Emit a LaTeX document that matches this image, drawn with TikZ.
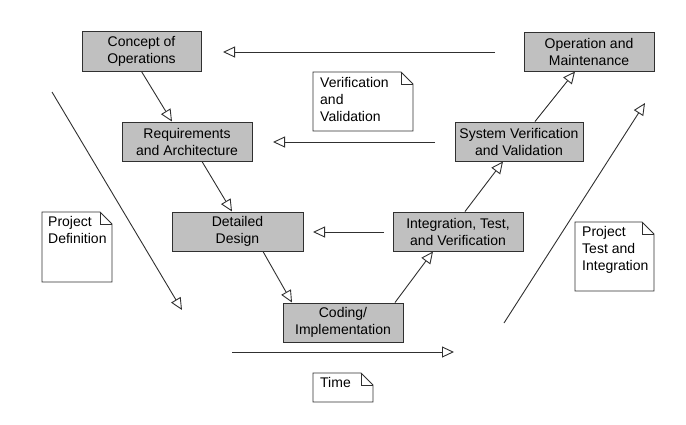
\documentclass[tikz,border=0pt]{standalone}
\usepackage{fontspec}
\setmainfont{Liberation Sans}
\usetikzlibrary{arrows.meta}
\definecolor{boxgray}{HTML}{C0C0C0}
\definecolor{linegray}{HTML}{303030}
\tikzset{
  phase/.style={draw=linegray, line width=1pt, fill=boxgray, inner sep=0pt, align=center,
    font=\fontsize{14}{17}\selectfont},
  note/.style={inner sep=0pt, align=left, anchor=north west,
    font=\fontsize{14}{17}\selectfont},
  conn/.style={draw=linegray, line width=0.9pt, -{Triangle[open, length=12pt, width=11pt, line width=0.9pt]}},
  noteline/.style={draw=linegray, line width=0.9pt}
}
\newcommand{\notebox}[5]{% name, x0, y0, x1, y1
  \coordinate (#1-nw) at (#2,#3);
  \coordinate (#1-se) at (#4,#5);
  \draw[noteline] (#1-nw) -- (#4-12,#3) -- (#4,#3+12) -- (#1-se) -- (#2,#5) -- cycle;
  \draw[noteline] (#4-12,#3) -- (#4-12,#3+12) -- (#4,#3+12);
}
\begin{document}
\begin{tikzpicture}[x=1pt, y=-1pt]
\useasboundingbox (0,0) rectangle (686,424);
% phases
\node[phase, minimum width=119pt, minimum height=40pt] (con) at (141.5,51) {Concept of\\Operations};
\node[phase, minimum width=130pt, minimum height=39pt] (req) at (187,141.5) {Requirements\\and Architecture};
\node[phase, minimum width=131pt, minimum height=39pt] (det) at (237.5,231.5) {Detailed\\Design};
\node[phase, minimum width=120pt, minimum height=39pt] (cod) at (343,322.5) {Coding/\\Implementation};
\node[phase, minimum width=130pt, minimum height=39pt] (int) at (458,231.5) {Integration, Test,\\and Verification};
\node[phase, minimum width=128pt, minimum height=39pt] (sys) at (519,141.5) {System Verification\\and Validation};
\node[phase, minimum width=130pt, minimum height=39pt] (op) at (589,51.5) {Operation and\\Maintenance};
% V connectors
\draw[conn] (con.south) -- ([xshift=-15pt]req.north);
\draw[conn] ([xshift=15pt]req.south) -- ([xshift=-5.5pt]det.north);
\draw[conn] ([xshift=25.5pt]det.south) -- ([xshift=-51pt]cod.north);
\draw[conn] ([xshift=52pt]cod.north) -- ([xshift=-25pt]int.south);
\draw[conn] ([xshift=7pt]int.north) -- ([xshift=-16pt]sys.south);
\draw[conn] ([xshift=16pt]sys.north) -- ([xshift=-14pt]op.south);
% free arrows
\coordinate (t1s) at (495,52); \coordinate (t1e) at (223,52);
\coordinate (t2s) at (435,142); \coordinate (t2e) at (273,142);
\coordinate (t3s) at (384,232); \coordinate (t3e) at (313,232);
\coordinate (tms) at (232,352); \coordinate (tme) at (454,352);
\coordinate (lds) at (52,92); \coordinate (lde) at (182,310);
\coordinate (rds) at (504,323); \coordinate (rde) at (645,103);
\draw[conn] (t1s) -- (t1e);
\draw[conn] (t2s) -- (t2e);
\draw[conn] (t3s) -- (t3e);
\draw[conn] (tms) -- (tme);
\draw[conn] (lds) -- (lde);
\draw[conn] (rds) -- (rde);
% notes
\notebox{vv}{313}{72}{413}{131}
\node[note] (vvt) at (320,77) {Verification\\and\\Validation};
\notebox{pd}{42}{212}{112}{282}
\node[note] (pdt) at (48,216) {Project\\Definition};
\notebox{pt}{575}{222}{654}{291}
\node[note] (ptt) at (582,226) {Project\\Test and\\Integration};
\notebox{tm}{313}{373}{373}{402}
\node[note] (tmt) at (320,377) {Time};
\end{tikzpicture}
\end{document}
